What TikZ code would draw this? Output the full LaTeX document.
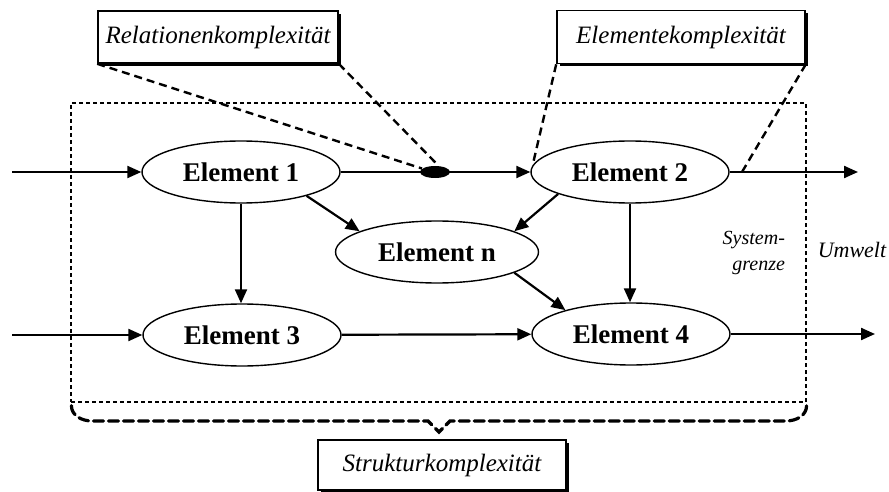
\documentclass[tikz,border=0pt]{standalone}
\usepackage{fontspec}
\setmainfont{Liberation Serif}
\usepackage{tikz}
\usetikzlibrary{shapes.geometric,arrows.meta,positioning,calc,shadows}

\begin{document}
\begin{tikzpicture}[
        x=0.5pt, y=-0.5pt,
        box/.style={rectangle, draw, line width=0.8pt, fill=white, inner sep=0pt, text centered, font=\fontsize{12.5}{14}\selectfont\itshape,
            drop shadow={shadow xshift=1.5pt, shadow yshift=-1.5pt, fill=black, opacity=1}},
        elem/.style={ellipse, draw, line width=0.7pt, inner sep=0pt, minimum width=99pt, minimum height=31pt, font=\fontsize{13.5}{15}\selectfont\bfseries},
        arrow/.style={-{Triangle[length=7pt, width=6pt]}, line width=1.1pt},
        relline/.style={line width=1.2pt, dash pattern=on 4pt off 2.5pt},
        grenze/.style={line width=0.6pt, dash pattern=on 2pt off 1.5pt},
        bracket/.style={line width=1.6pt, dash pattern=on 5pt off 2.5pt, line cap=round}
    ]
        \useasboundingbox (0,0) rectangle (889,492);

        % Systemgrenze
        \node[grenze, draw, rectangle, minimum width=367.5pt, minimum height=149.5pt, inner sep=0pt] (sys) at (438.5,252.5) {};

        % Elements
        \node[elem] (e1) at (241,172) {Element 1};
        \node[elem] (e2) at (630,172) {Element 2};
        \node[elem, minimum width=101.5pt] (en) at (437,252) {Element n};
        \node[elem] (e3) at (242,335) {Element 3};
        \node[elem] (e4) at (631,334) {Element 4};

        % Inputs and outputs
        \coordinate (in1) at (12,172);
        \coordinate (in3) at (12,335);
        \coordinate (out2) at (858,172);
        \coordinate (out4) at (875,334);
        \coordinate (hit2) at (742,172);

        % Arrows
        \draw[arrow] (in1) -- (e1);
        \draw[arrow] (in3) -- (e3);
        \draw[arrow] (e1) -- (e2);
        \draw[arrow] (e2) -- (out2);
        \draw[arrow] (e4) -- (out4);
        \draw[arrow] (e1) -- (e1 |- e3.north);
        \draw[arrow] (e2) -- (e2 |- e4.north);
        \draw[arrow] (e3) -- (e4);
        \draw[arrow] (e1.-20) -- (en.165);
        \draw[arrow] (e2.197) -- (en.15);
        \draw[arrow] (en.-15) -- (e4.160);

        % Relation dot
        \node[ellipse, fill=black, inner sep=0pt, minimum width=15pt, minimum height=6pt] (dot) at (435,172) {};

        % Complexity labels
        \node[box, minimum width=120pt, minimum height=26pt] (rel) at (218,37) {Relationenkomplexität};
        \node[box, minimum width=124pt, minimum height=26.5pt] (elk) at (681,37) {Elementekomplexität};
        \node[box, minimum width=124pt, minimum height=25pt] (struk) at (442,465) {Strukturkomplexität};

        \draw[relline] (rel.south west) -- (dot.165);
        \draw[relline] (rel.south east) -- (dot.60);
        \draw[relline] (elk.south west) -- (e2.176);
        \draw[relline] (elk.south east) -- (hit2);

        % Brace
        \draw[bracket] ($(sys.south west)+(1,3)$) to[out=-90,in=180] (92,421) -- (428,421) -- (439,432) -- (450,421) -- (786,421) to[out=0,in=-90] ($(sys.south east)+(0,3)$);

        % Labels
        \node[align=right, font=\fontsize{10}{13}\selectfont\itshape, anchor=east] (sg) at (792,253) {System-\\grenze};
        \node[font=\fontsize{11}{13}\selectfont\itshape] (um) at (852,250) {Umwelt};
    \end{tikzpicture}
\end{document}
